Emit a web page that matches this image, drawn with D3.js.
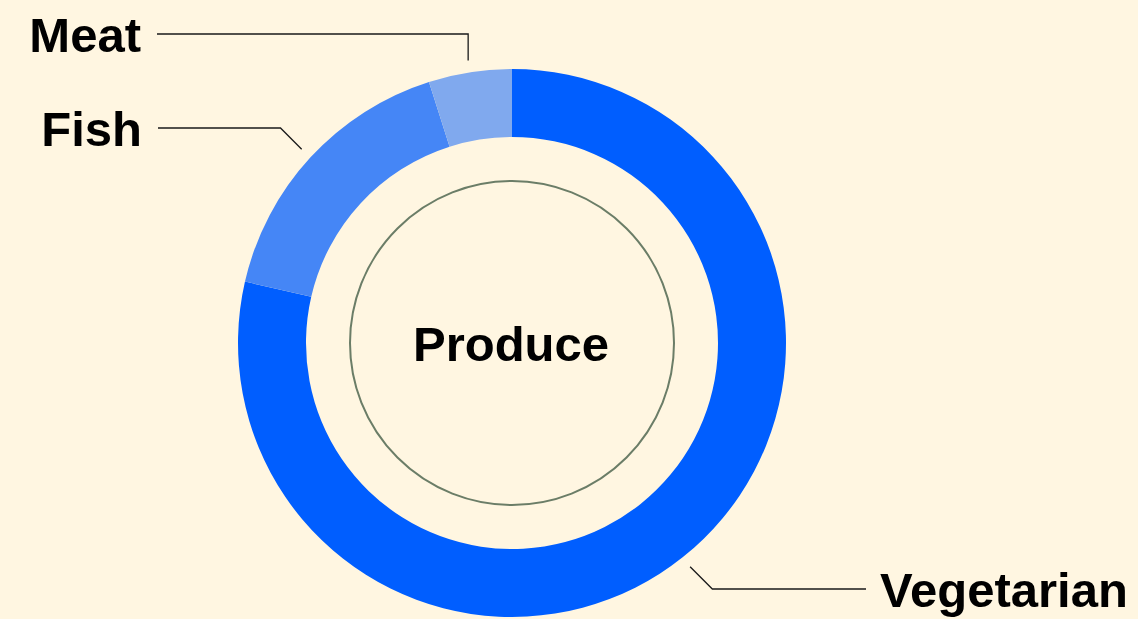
<!DOCTYPE html>
<meta charset="utf-8">
<style>
  html, body { margin: 0; padding: 0; background: #fff6e1; }
  svg { display: block; }
  .lbl { font-family: "Liberation Sans", Arial, sans-serif; font-weight: 700; font-size: 49px; fill: #000; }
</style>
<body>
<div id="chart"></div>
<script src="https://cdn.jsdelivr.net/npm/d3@7"></script>
<script>
  // data (share of produce, %)
  var categories = ["Vegetarian", "Fish", "Meat"];
  var shares = [78.6, 16.5, 4.9];
  var colors = ["#005eff", "#4586f6", "#80a9ee"];
  var centerLabel = "Produce";

  var width = 1138, height = 619;
  var cx = 512, cy = 343;
  var outerR = 274, innerR = 206, ringR = 162;

  // where each leader line ends up (label side / line y / how it bends)
  var labelLayout = {
    "Vegetarian": { side: "right", lineY: 589, endX: 866, bend: "diag" },
    "Fish":       { side: "left",  lineY: 128, endX: 158, bend: "diag" },
    "Meat":       { side: "left",  lineY: 34,  endX: 157, bend: "vert" }
  };

  var svg = d3.select("#chart").append("svg")
    .attr("width", width)
    .attr("height", height);

  var rows = categories.map(function(c, i) { return { name: c, value: shares[i], color: colors[i] }; });

  var pie = d3.pie().sort(null).value(function(d) { return d.value; });
  var arc = d3.arc().innerRadius(innerR).outerRadius(outerR);
  var arcs = pie(rows);

  var g = svg.append("g").attr("transform", "translate(" + cx + "," + cy + ")");

  g.selectAll("path.slice")
    .data(arcs)
    .enter().append("path")
    .attr("class", "slice")
    .attr("d", arc)
    .attr("fill", function(d) { return d.data.color; });

  g.append("circle")
    .attr("r", ringR)
    .attr("fill", "none")
    .attr("stroke", "#6b7d67")
    .attr("stroke-width", 2);

  g.append("text")
    .attr("class", "lbl")
    .attr("text-anchor", "middle")
    .attr("x", -1)
    .attr("y", 18)
    .text(centerLabel);

  // leader lines + labels
  var lineR = 286;
  arcs.forEach(function(d) {
    var lay = labelLayout[d.data.name];
    var mid = (d.startAngle + d.endAngle) / 2;
    var x0 = cx + lineR * Math.sin(mid);
    var y0 = cy - lineR * Math.cos(mid);
    var x1, y1 = lay.lineY;
    if (lay.bend === "vert") {
      x1 = x0;
    } else {
      var dy = Math.abs(y1 - y0);
      x1 = lay.side === "left" ? x0 - dy : x0 + dy;
    }
    var pts = [[x0, y0], [x1, y1], [lay.endX, y1]];
    svg.append("path")
      .attr("d", d3.line()(pts))
      .attr("fill", "none")
      .attr("stroke", "#1a1a1a")
      .attr("stroke-width", 1.3);

    svg.append("text")
      .attr("class", "lbl")
      .attr("text-anchor", lay.side === "left" ? "end" : "start")
      .attr("x", lay.side === "left" ? lay.endX - 16 : lay.endX + 14)
      .attr("y", y1 + 18)
      .text(d.data.name);
  });
</script>
</body>
